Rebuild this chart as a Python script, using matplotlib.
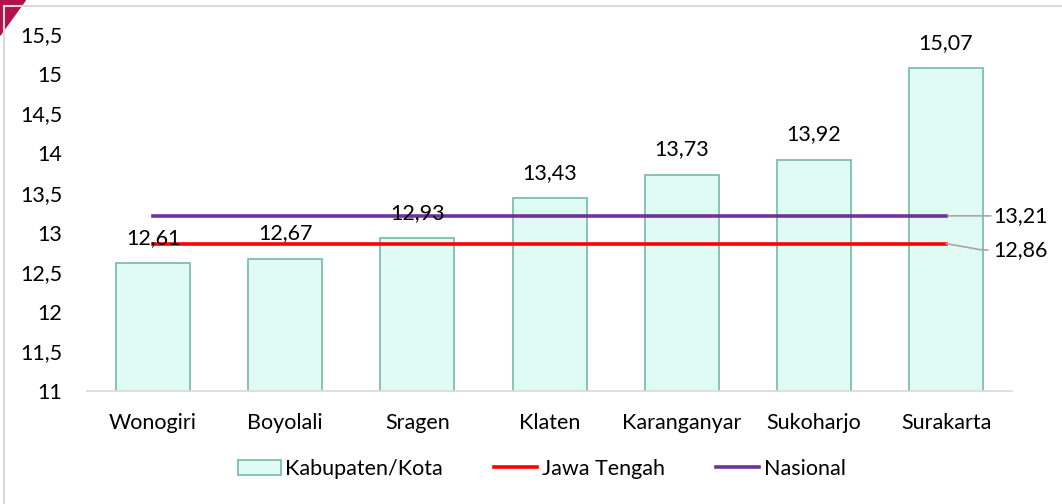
import matplotlib.pyplot as plt
import matplotlib.patches as mpatches
from matplotlib.lines import Line2D

plt.rcParams['font.family'] = ['Lato', 'DejaVu Sans']

# data per kabupaten/kota
daerah = ['Wonogiri', 'Boyolali', 'Sragen', 'Klaten', 'Karanganyar', 'Sukoharjo', 'Surakarta']
nilai = [12.61, 12.67, 12.93, 13.43, 13.73, 13.92, 15.07]
jawa_tengah = 12.86
nasional = 13.21
yticks = [11, 11.5, 12, 12.5, 13, 13.5, 14, 14.5, 15, 15.5]

FS = 15.5


def koma(v):
    return f'{v:.2f}'.replace('.', ',')


def koma_tick(v):
    s = f'{v:g}'
    return s.replace('.', ',')


fig = plt.figure(figsize=(10.62, 5.04), dpi=100)
ax = fig.add_axes([0.082, 0.224, 0.871, 0.708])

x = list(range(len(daerah)))
bars = ax.bar(x, nilai, width=0.56, color='#E0FBF4', edgecolor='#7FBDB2',
              linewidth=1.3, zorder=2)

# garis rata-rata provinsi dan nasional
ax.plot([x[0], x[-1]], [jawa_tengah, jawa_tengah], color='#FF0000', lw=2.6, zorder=3)
ax.plot([x[0], x[-1]], [nasional, nasional], color='#7030A0', lw=2.6, zorder=3)

for xi, v in zip(x, nilai):
    ax.annotate(koma(v), (xi, v), xytext=(0, 11), textcoords='offset points',
                ha='center', va='bottom', fontsize=FS, color='#000000', zorder=5)

# label garis di sebelah kanan dengan garis penunjuk
ax.annotate(koma(nasional), xy=(x[-1], nasional), xytext=(x[-1] + 0.36, nasional),
            ha='left', va='center', fontsize=FS, annotation_clip=False,
            arrowprops=dict(arrowstyle='-', color='#A6A6A6', lw=1.2,
                            shrinkA=0, shrinkB=2))
ax.annotate(koma(jawa_tengah), xy=(x[-1], jawa_tengah), xytext=(x[-1] + 0.36, jawa_tengah - 0.08),
            ha='left', va='center', fontsize=FS, annotation_clip=False,
            arrowprops=dict(arrowstyle='-', color='#A6A6A6', lw=1.2,
                            connectionstyle='angle,angleA=0,angleB=-10,rad=0',
                            shrinkA=2, shrinkB=0))

ax.set_ylim(11, 15.5)
ax.set_xlim(-0.5, len(daerah) - 0.5)
ax.set_yticks(yticks)
ax.set_yticklabels([koma_tick(t) for t in yticks])
ax.set_xticks(x)
ax.set_xticklabels(daerah)
ax.tick_params(axis='both', length=0, labelsize=FS, colors='#000000')
ax.tick_params(axis='y', pad=18)
ax.tick_params(axis='x', pad=16)
for s in ['top', 'right', 'left']:
    ax.spines[s].set_visible(False)
ax.spines['bottom'].set_color('#D9D9D9')
ax.spines['bottom'].set_linewidth(1.2)

handles = [
    mpatches.Patch(facecolor='#E0FBF4', edgecolor='#7FBDB2', linewidth=1.3, label='Kabupaten/Kota'),
    Line2D([0], [0], color='#FF0000', lw=2.6, label='Jawa Tengah'),
    Line2D([0], [0], color='#7030A0', lw=2.6, label='Nasional'),
]
fig.legend(handles=handles, loc='center', bbox_to_anchor=(0.51, 0.07), ncol=3,
           frameon=False, fontsize=FS, handlelength=2.0, handletextpad=0.2,
           columnspacing=2.4)

# bingkai tipis di tepi atas dan kiri
fig.add_artist(Line2D([0.004, 1], [0.988, 0.988], color='#D9D9D9', lw=1.5, transform=fig.transFigure))
fig.add_artist(Line2D([0.004, 0.004], [0, 0.988], color='#D9D9D9', lw=1.5, transform=fig.transFigure))
fig.add_artist(mpatches.Polygon([[0, 1], [0.024, 1], [0, 0.93]], closed=True,
                                color='#B0144A', transform=fig.transFigure))

fig.savefig('out.png', dpi=100, facecolor='white')
